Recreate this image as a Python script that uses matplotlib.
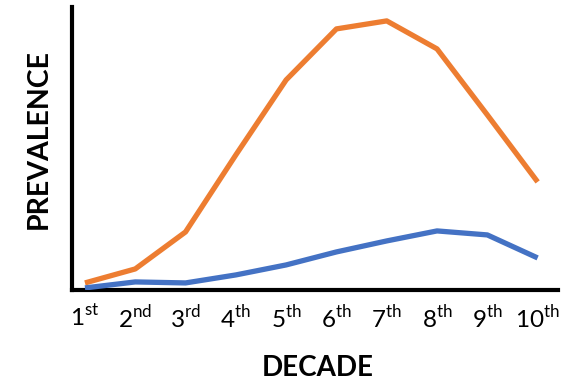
import matplotlib.pyplot as plt

plt.rcParams["font.family"] = ["Lato", "DejaVu Sans"]
plt.rcParams["mathtext.fontset"] = "custom"
plt.rcParams["mathtext.rm"] = "Lato"

decades = [1, 2, 3, 4, 5, 6, 7, 8, 9, 10]
tick_labels = [r"1$^{\mathrm{st}}$", r"2$^{\mathrm{nd}}$", r"3$^{\mathrm{rd}}$",
               r"4$^{\mathrm{th}}$", r"5$^{\mathrm{th}}$", r"6$^{\mathrm{th}}$",
               r"7$^{\mathrm{th}}$", r"8$^{\mathrm{th}}$", r"9$^{\mathrm{th}}$",
               r"10$^{\mathrm{th}}$"]
orange_vals = [7, 21, 58, 135, 210, 261, 269, 241, 175, 108]
blue_vals = [2, 8, 7, 15, 25, 38, 49, 59, 55, 32]

fig = plt.figure(figsize=(5.75, 3.83), dpi=100)
ax = fig.add_axes([0.125, 0.243, 0.845, 0.739])

ax.plot(decades, orange_vals, color="#ED7D31", lw=3.8, solid_capstyle="butt", zorder=2)
ax.plot(decades, blue_vals, color="#4472C4", lw=3.8, solid_capstyle="butt", zorder=3)

ax.set_xlim(0.74, 10.4)
ax.set_ylim(0, 283)
ax.set_xticks(decades)
ax.set_xticklabels(tick_labels, fontsize=17.5)
ax.set_yticks([])
ax.tick_params(axis="x", length=0, pad=10)

for side in ("top", "right"):
    ax.spines[side].set_visible(False)
for side in ("left", "bottom"):
    ax.spines[side].set_linewidth(3)
    ax.spines[side].set_color("black")

fig.text(0.553, 0.04, "DECADE", fontsize=20, fontweight="bold", ha="center", va="center")
fig.text(0.068, 0.637, "PREVALENCE", fontsize=20.5, fontweight="bold",
         ha="center", va="center", rotation=90)

fig.savefig("out.png", dpi=100)
